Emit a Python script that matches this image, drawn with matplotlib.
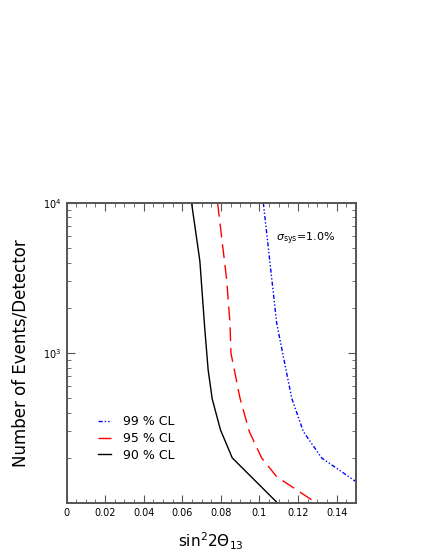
import numpy as np
import matplotlib
matplotlib.use("Agg")
import matplotlib.pyplot as plt
from matplotlib.ticker import FixedLocator, LogLocator, NullFormatter, FixedFormatter

# curves: (sin^2 2theta13, events/detector)
x90 = [0.0648, 0.0691, 0.0717, 0.0734, 0.0755, 0.0798, 0.0859, 0.1094]
n90 = [10000, 4100, 1420, 770, 494, 307, 200, 100]

x95 = [0.0783, 0.0830, 0.0847, 0.0852, 0.0899, 0.0947, 0.1011, 0.1089, 0.1296]
n95 = [10000, 3070, 1585, 1000, 500, 300, 200, 150, 100]

x99 = [0.1020, 0.1089, 0.1120, 0.1167, 0.1227, 0.1322, 0.1500]
n99 = [10000, 1585, 1000, 500, 300, 200, 139]

xticks = [0, 0.02, 0.04, 0.06, 0.08, 0.1, 0.12, 0.14]
xticklabels = ["0", "0.02", "0.04", "0.06", "0.08", "0.1", "0.12", "0.14"]

fig = plt.figure(figsize=(4.32, 5.59), dpi=100)
ax = fig.add_axes([0.154, 0.100, 0.670, 0.537])

ax.plot(x99, n99, color="blue", lw=1.0, linestyle=(0, (3, 1.5, 1, 1.5, 1, 1.5)), label="99 % CL")
ax.plot(x95, n95, color="red", lw=1.0, linestyle=(0, (10, 5)), label="95 % CL")
ax.plot(x90, n90, color="black", lw=1.0, label="90 % CL")

ax.set_yscale("log")
ax.set_xlim(0, 0.15)
ax.set_ylim(100, 10000)

ax.xaxis.set_major_locator(FixedLocator(xticks))
ax.xaxis.set_major_formatter(FixedFormatter(xticklabels))
ax.xaxis.set_minor_locator(FixedLocator(np.arange(0, 0.1501, 0.005)))
ax.yaxis.set_major_locator(FixedLocator([1000, 10000]))
ax.yaxis.set_major_formatter(FixedFormatter([r"$10^3$", r"$10^4$"]))
ax.yaxis.set_minor_locator(LogLocator(base=10, subs=np.arange(2, 10)))
ax.yaxis.set_minor_formatter(NullFormatter())

ax.tick_params(which="both", direction="in", top=True, right=True, color="#555555")
ax.tick_params(which="major", length=6, labelsize=7)
ax.tick_params(which="minor", length=3)
for s in ax.spines.values():
    s.set_linewidth(1.4)
    s.set_color("#555555")

ax.set_xlabel(r"sin$^2$2$\Theta_{13}$", fontsize=11, labelpad=9)
ax.set_ylabel("Number of Events/Detector", fontsize=12, labelpad=10)

ax.text(0.124, 5800, r"$\sigma_{\rm sys}$=1.0%", fontsize=8, ha="center", va="center")

leg = ax.legend(loc="lower left", bbox_to_anchor=(0.07, 0.1), frameon=False,
                fontsize=9, handlelength=1.0, handletextpad=1.0, labelspacing=0.3)

fig.savefig("out.png", dpi=100)
